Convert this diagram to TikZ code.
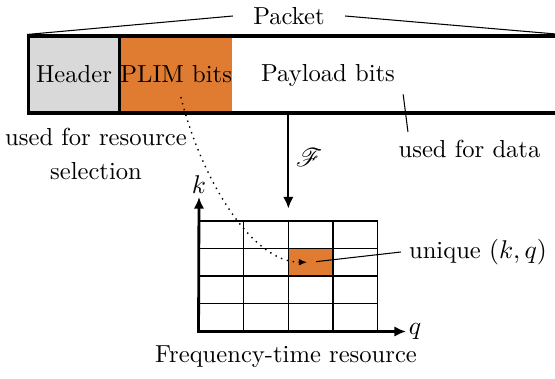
\documentclass[tikz,border=0pt]{standalone}
\IfFileExists{mathrsfs.sty}{\usepackage{mathrsfs}}{\newcommand{\mathscr}{\mathcal}}
\usepackage{xcolor}
\usetikzlibrary{arrows.meta, positioning}

\definecolor{plimorange}{RGB}{224,123,50}
\definecolor{hdrgray}{RGB}{217,217,217}

% one drawing unit
\newcommand{\pxlen}{0.015cm}

\begin{document}
\begin{tikzpicture}[
  x=0.015cm, y=-0.015cm,
  >={Latex[length=5pt,width=4.5pt]},
  font=\fontsize{10.5}{13}\selectfont,
  field/.style={rectangle, inner sep=0pt, minimum height=77*\pxlen},
  frame/.style={draw, line width=1.3pt},
  cellbox/.style={rectangle, inner sep=0pt, minimum width=44.675*\pxlen, minimum height=27.5*\pxlen},
  gridline/.style={line width=0.5pt},
  axis/.style={<->, line width=1.2pt},
  mapto/.style={->, line width=0.9pt},
  note/.style={line width=0.45pt},
  pick/.style={dotted, line width=0.6pt, -{Latex[length=3.5pt,width=2.8pt]}}
]
\useasboundingbox (0,0) rectangle (555,378);
\clip (0,0) rectangle (555,378);

% ---------------------------------------------------
% Grid of the frequency-time plane
% ---------------------------------------------------
\def\xLeft{199}
\def\xStep{44.675}
\def\yTop{221}
\def\yStep{27.5}

% ---------------------------------------------------
% 1. The packet
% ---------------------------------------------------
\node[field, fill=hdrgray, minimum width=91*\pxlen] (header) at (74,74.5) {Header};
\node[field, fill=plimorange, minimum width=109.5*\pxlen, right=0pt of header] (plim) {PLIM bits};
\node (payload) at (328,75) {Payload bits};
\node[field, frame, minimum width=531.5*\pxlen] (packet) at (294.25,74.5) {};
\draw[frame] (header.north east) -- (header.south east);

\node[inner xsep=20*\pxlen] (pktlbl) at (289,16) {Packet};
\draw[note] (packet.north west) -- (pktlbl.west);
\draw[note] (pktlbl.east) -- (packet.north east);

% ---------------------------------------------------
% 2. Notes under the packet
% ---------------------------------------------------
\node[align=center] (selnote) at (96,154) {used for resource\\[1.5pt] selection};
\node (datanote) at (469.5,149) {used for data};
\draw[note] (payload.south east) -- ([xshift=7.5pt]datanote.north west);

% ---------------------------------------------------
% 3. Frequency-time resource
% ---------------------------------------------------
\node[inner sep=0pt, minimum width=178.7*\pxlen, minimum height=110*\pxlen] (tfgrid) at (288.35,276) {};
\node[cellbox, fill=plimorange] (cell) at (\xLeft+2.5*\xStep,\yTop+1.5*\yStep) {};

\foreach \i in {1,...,4}
  \draw[gridline] (\xLeft+\i*\xStep,\yTop) -- (\xLeft+\i*\xStep,\yTop+4*\yStep);
\foreach \j in {0,...,3}
  \draw[gridline] (\xLeft,\yTop+\j*\yStep) -- (\xLeft+4*\xStep,\yTop+\j*\yStep);

\coordinate (ktip) at (199,197);
\coordinate (qtip) at (406,331.5);
\draw[axis] (ktip) -- (tfgrid.south west) -- (qtip);
\node[above, inner sep=1.5pt] (klbl) at (ktip) {$k$};
\node[right, inner sep=1pt] (qlbl) at (qtip) {$q$};

\node (tflbl) at (286,357) {Frequency-time resource};
\node (uniqnote) at (478,252) {unique $(k,q)$};
\draw[note, shorten <=2.3pt] (cell.center) -- (uniqnote.west);

% ---------------------------------------------------
% Draw Connections
% ---------------------------------------------------
\draw[mapto] (packet.south -| tfgrid.north) -- ([yshift=12*\pxlen]tfgrid.north);
\node (fmap) at (309,158) {$\mathscr{F}$};

\draw[pick] ([xshift=2pt,yshift=7pt]plim.south) .. controls (200,175) and (250,262) .. ([xshift=-1.5pt]cell.center);

\end{tikzpicture}
\end{document}
